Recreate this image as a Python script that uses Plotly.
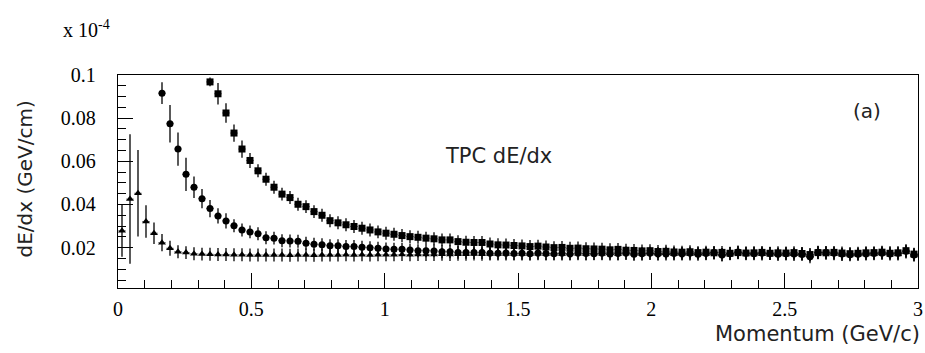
import plotly.graph_objects as go

# bin centres (GeV/c)
momentum = [round(0.015 + 0.03 * i, 3) for i in range(100)]

# pion-like band (triangles)
pi_dedx = [
    0.0278, 0.0425, 0.0452, 0.0321, 0.0267, 0.0223, 0.0197, 0.0181, 0.0177, 0.0172,
    0.0170, 0.0169, 0.0168, 0.0168, 0.0167, 0.0167, 0.0166, 0.0166, 0.0166, 0.0166,
    0.0166, 0.0165, 0.0166, 0.0166, 0.0165, 0.0166, 0.0166, 0.0166, 0.0167, 0.0166,
    0.0167, 0.0166, 0.0167, 0.0167, 0.0167, 0.0168, 0.0167, 0.0168, 0.0168, 0.0168,
    0.0169, 0.0168, 0.0169, 0.0169, 0.0170, 0.0169, 0.0170, 0.0170, 0.0170, 0.0171,
    0.0171, 0.0170, 0.0172, 0.0171, 0.0172, 0.0171, 0.0173, 0.0172, 0.0171, 0.0173,
    0.0172, 0.0174, 0.0171, 0.0173, 0.0172, 0.0170, 0.0173, 0.0172, 0.0175, 0.0171,
    0.0173, 0.0170, 0.0174, 0.0172, 0.0175, 0.0168, 0.0173, 0.0176, 0.0172, 0.0174,
    0.0171, 0.0173, 0.0170, 0.0172, 0.0169, 0.0173, 0.0166, 0.0176, 0.0174, 0.0172,
    0.0168, 0.0171, 0.0170, 0.0173, 0.0172, 0.0174, 0.0177, 0.0171, 0.0180, 0.0167,
]
pi_err = [0.012, 0.030, 0.020, 0.0075, 0.005, 0.004, 0.0035] + [0.003] * 93

# kaon-like band (circles)
k_dedx = [None] * 5 + [
    0.0916, 0.0774, 0.0657, 0.0540, 0.0480,
    0.0427, 0.0381, 0.0347, 0.0324, 0.0301, 0.0282, 0.0273, 0.0264, 0.0246, 0.0244,
    0.0232, 0.0231, 0.0230, 0.0220, 0.0216, 0.0213, 0.0209, 0.0209, 0.0205, 0.0205,
    0.0202, 0.0200, 0.0197, 0.0194, 0.0193, 0.0193, 0.0189, 0.0186, 0.0186, 0.0185,
    0.0181, 0.0181, 0.0178, 0.0178, 0.0177, 0.0177, 0.0174, 0.0174, 0.0175, 0.0173,
    0.0174, 0.0172, 0.0175, 0.0173, 0.0172, 0.0174, 0.0171, 0.0175, 0.0173, 0.0172,
    0.0174, 0.0170, 0.0173, 0.0175, 0.0169, 0.0172, 0.0174, 0.0171, 0.0170, 0.0173,
    0.0171, 0.0174, 0.0169, 0.0173, 0.0177, 0.0166, 0.0172, 0.0180, 0.0174, 0.0172,
    0.0174, 0.0173, 0.0169, 0.0172, 0.0170, 0.0168, 0.0158, 0.0179, 0.0178, 0.0174,
    0.0170, 0.0167, 0.0169, 0.0171, 0.0173, 0.0175, 0.0170, 0.0174, 0.0183, 0.0166,
]
k_err = [0.0] * 5 + [0.005, 0.0087, 0.0077, 0.0077, 0.005, 0.0045, 0.004, 0.0035, 0.0035] + [0.003] * 86

# proton-like band (squares)
p_dedx = [None] * 11 + [
    0.0968, 0.0913, 0.0824, 0.0731, 0.0657, 0.0604, 0.0556, 0.0517, 0.0480,
    0.0448, 0.0432, 0.0401, 0.0390, 0.0367, 0.0350, 0.0325, 0.0315, 0.0306, 0.0298,
    0.0290, 0.0282, 0.0273, 0.0267, 0.0262, 0.0256, 0.0251, 0.0248, 0.0244, 0.0241,
    0.0236, 0.0236, 0.0228, 0.0225, 0.0224, 0.0224, 0.0217, 0.0213, 0.0212, 0.0210,
    0.0208, 0.0205, 0.0207, 0.0203, 0.0200, 0.0201, 0.0197, 0.0198, 0.0195, 0.0194,
    0.0193, 0.0190, 0.0192, 0.0188, 0.0187, 0.0185, 0.0186, 0.0182, 0.0183, 0.0180,
    0.0179, 0.0181, 0.0177, 0.0179, 0.0176, 0.0178, 0.0174, 0.0177, 0.0175, 0.0176,
    0.0178, 0.0174, 0.0176, 0.0175, 0.0177, 0.0173, 0.0168, 0.0177, 0.0176, 0.0178,
    0.0175, 0.0172, 0.0174, 0.0176, 0.0177, 0.0179, 0.0174, 0.0176, 0.0186, 0.0170,
]
p_err = [0.0] * 11 + [0.002, 0.005, 0.0045, 0.004, 0.004, 0.0035] + [0.003] * 83

half_bin = [0.015] * 100

x_tickvals = [0, 0.5, 1, 1.5, 2, 2.5, 3]
x_ticktext = ["0", "0.5", "1", "1.5", "2", "2.5", "3"]
y_tickvals = [0.02, 0.04, 0.06, 0.08, 0.1]
y_ticktext = ["0.02", "0.04", "0.06", "0.08", "0.1"]

fig = go.Figure()

series = [
    (pi_dedx, pi_err, "triangle-up", 7),
    (k_dedx, k_err, "circle", 7),
    (p_dedx, p_err, "square", 7),
]
for vals, errs, sym, sz in series:
    xs = [m for m, v in zip(momentum, vals) if v is not None]
    ys = [v for v in vals if v is not None]
    es = [e for e, v in zip(errs, vals) if v is not None]
    hx = [h for h, v in zip(half_bin, vals) if v is not None]
    fig.add_trace(go.Scatter(
        x=xs, y=ys, mode="markers",
        marker=dict(symbol=sym, size=sz, color="black", line=dict(width=0)),
        error_y=dict(type="data", array=es, visible=True, color="black", thickness=1.3, width=0),
        error_x=dict(type="data", array=hx, visible=True, color="rgba(0,0,0,0.45)", thickness=1, width=0),
        showlegend=False, hoverinfo="skip",
    ))

fig.update_layout(
    width=925, height=353,
    margin=dict(l=118, r=7, t=75, b=65, autoexpand=False),
    paper_bgcolor="white", plot_bgcolor="white",
    font=dict(family="Liberation Serif", color="black", size=20),
    xaxis=dict(
        range=[0, 3], showgrid=False, zeroline=False, automargin=False,
        showline=True, linecolor="black", linewidth=1.3, mirror=True,
        ticks="inside", ticklen=15, tickcolor="black", tickwidth=1,
        tickvals=x_tickvals, ticktext=x_ticktext,
        tickfont=dict(family="Liberation Serif", size=20),
        ticklabelstandoff=3, ticklabeloverflow="allow",
        minor=dict(dtick=0.1, tick0=0, ticks="inside", ticklen=8, tickcolor="black", tickwidth=1, showgrid=False),
    ),
    yaxis=dict(
        range=[0.0013, 0.1], showgrid=False, zeroline=False, automargin=False,
        showline=True, linecolor="black", linewidth=1.3, mirror=True,
        ticks="inside", ticklen=15, tickcolor="black", tickwidth=1,
        tickvals=y_tickvals, ticktext=y_ticktext,
        tickfont=dict(family="Liberation Serif", size=20),
        ticklabelstandoff=17, ticklabeloverflow="allow",
        minor=dict(dtick=0.005, tick0=0, ticks="inside", ticklen=8, tickcolor="black", tickwidth=1, showgrid=False),
    ),
    annotations=[
        dict(text="Momentum (GeV/c)", xref="paper", yref="paper", x=1.005, y=-0.218,
             xanchor="right", yanchor="middle", showarrow=False,
             font=dict(family="DejaVu Sans", size=21, color="#222")),
        dict(text="dE/dx (GeV/cm)", xref="paper", yref="paper", x=-0.116, y=0.51,
             xanchor="center", yanchor="middle", textangle=-90, showarrow=False,
             font=dict(family="DejaVu Sans", size=20, color="#222")),
        dict(text="TPC dE/dx", xref="x", yref="y", x=1.425, y=0.0625,
             xanchor="center", yanchor="middle", showarrow=False,
             font=dict(family="DejaVu Sans", size=21, color="#222")),
        dict(text="(a)", xref="x", yref="y", x=2.81, y=0.0835,
             xanchor="center", yanchor="middle", showarrow=False,
             font=dict(family="DejaVu Sans", size=20, color="#222")),
        dict(text="x 10<sup>-4</sup>", xref="paper", yref="paper", x=-0.04, y=1.216,
             xanchor="center", yanchor="middle", showarrow=False,
             font=dict(family="Liberation Serif", size=20, color="black")),
    ],
)

fig.write_html(
    "out.html",
    config={"displayModeBar": False, "staticPlot": True},
    post_script="document.body.style.margin='0';document.body.style.overflow='hidden';",
)
